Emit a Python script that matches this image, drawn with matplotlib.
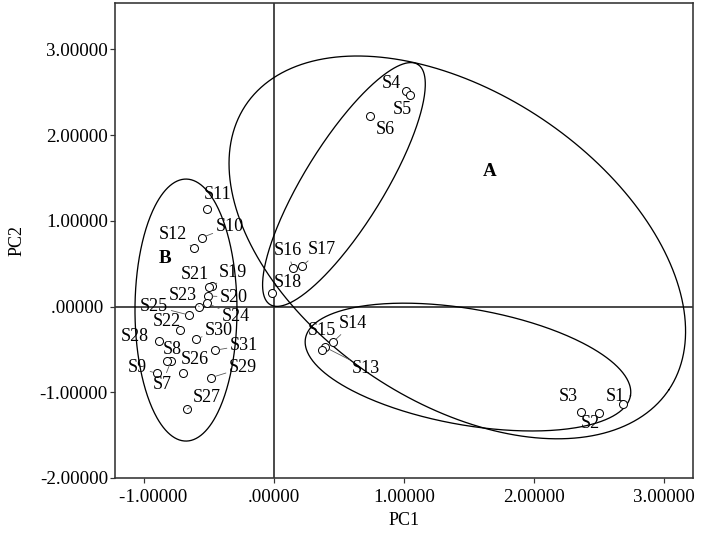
import numpy as np
import matplotlib
matplotlib.use("Agg")
import matplotlib.pyplot as plt
from matplotlib.ticker import FuncFormatter, MultipleLocator

plt.rcParams['font.family'] = ['Liberation Serif', 'DejaVu Serif']

# sample scores on the first two principal components
names = ['S1', 'S2', 'S3', 'S4', 'S5', 'S6', 'S7', 'S8', 'S9', 'S10',
         'S11', 'S12', 'S13', 'S14', 'S15', 'S16', 'S17', 'S18', 'S19', 'S20',
         'S21', 'S22', 'S23', 'S24', 'S25', 'S26', 'S27', 'S28', 'S29', 'S30', 'S31']
pc1 = [2.687, 2.500, 2.359, 1.013, 1.046, 0.738, -0.792, -0.825, -0.903, -0.556,
       -0.518, -0.615, 0.395, 0.451, 0.372, 0.144, 0.218, -0.013, -0.474, -0.508,
       -0.498, -0.723, -0.575, -0.515, -0.652, -0.698, -0.667, -0.885, -0.485, -0.600, -0.454]
pc2 = [-1.141, -1.247, -1.227, 2.518, 2.468, 2.223, -0.636, -0.636, -0.780, 0.803,
       1.134, 0.686, -0.476, -0.418, -0.508, 0.446, 0.476, 0.154, 0.239, 0.123,
       0.231, -0.274, 0.000, 0.040, -0.100, -0.770, -1.196, -0.400, -0.830, -0.380, -0.510]

# label offsets in pixels (right, down) and whether a leader line is drawn
label_pos = {
    'S1': (-8, -8, False), 'S2': (-9, 10, False), 'S3': (-12, -15, False),
    'S4': (-14, -7, False), 'S5': (-8, 15, True), 'S6': (15, 14, True),
    'S7': (-9, 23, True), 'S8': (6, -12, False), 'S9': (-19, -6, True),
    'S10': (28, -11, True), 'S11': (11, -15, False), 'S12': (-21, -13, True),
    'S13': (41, 21, True), 'S14': (20, -19, True), 'S15': (0, -20, False),
    'S16': (-5, -18, True), 'S17': (19, -16, True), 'S18': (16, -11, False),
    'S19': (21, -14, True), 'S20': (26, 1, True), 'S21': (-14, -12, False),
    'S22': (-13, -9, False), 'S23': (-16, -11, True), 'S24': (29, 13, True),
    'S25': (-35, -9, True), 'S26': (12, -13, False), 'S27': (19, -12, True),
    'S28': (-24, -4, False), 'S29': (32, -10, True), 'S30': (23, -9, True),
    'S31': (29, -5, True),
}

# cluster ellipses: centre (data), semi-axes (px), angle (deg)
ell_center = [(1.410, 0.690), (0.538, 1.424), (1.492, -0.706), (-0.677, -0.041)]
ell_axes = [(255, 154), (141, 40), (165, 58), (51, 131)]
ell_angle = [-34.0, 58.4, -10.0, 0.0]

groups = ['A', 'B']
group_x = [1.66, -0.838]
group_y = [1.57, 0.566]

xlim = (-1.223, 3.223)
ylim = (-2.0, 3.541)


def fmt(v, pos):
    s = '{:.5f}'.format(v)
    if s.startswith('-0.'):
        s = '-' + s[2:]
    elif s.startswith('0.'):
        s = s[1:]
    if s == '-.00000':
        s = '.00000'
    return s


def fmt_x(v, pos):
    s = fmt(v, pos)
    # SPSS puts the negative label a bit right of its tick
    if s.startswith('-'):
        s = '    ' + s
    return s


def fmt_y(v, pos):
    s = fmt(v, pos)
    if s == '.00000':
        s = '.00000 '
    return s


fig = plt.figure(figsize=(710 / 72, 550 / 72), dpi=72)
ax = fig.add_axes([115 / 710, 1 - 478 / 550, 578 / 710, 475 / 550])
ax.set_xlim(*xlim)
ax.set_ylim(*ylim)

# pixels per data unit
sx = 578 / (xlim[1] - xlim[0])
sy = 475 / (ylim[1] - ylim[0])

ax.axvline(0, color='#222222', lw=1.6, zorder=1)
ax.axhline(0, color='#222222', lw=1.6, zorder=1)

t = np.linspace(0, 2 * np.pi, 400)
for (cx, cy), (a, b), ang in zip(ell_center, ell_axes, ell_angle):
    th = np.radians(ang)
    u = a * np.cos(t)
    v = b * np.sin(t)
    ex = cx + (u * np.cos(th) - v * np.sin(th)) / sx
    ey = cy + (u * np.sin(th) + v * np.cos(th)) / sy
    ax.plot(ex, ey, color='black', lw=1.3, zorder=2)

ax.plot(pc1, pc2, 'o', ms=8, mfc='white', mec='black', mew=1.0, zorder=4)

for n, x, y in zip(names, pc1, pc2):
    dx, dy, lead = label_pos[n]
    props = None
    if lead:
        props = dict(arrowstyle='-', color='#555555', lw=0.8, shrinkA=1, shrinkB=4)
    ax.annotate(n, xy=(x, y), xytext=(dx, -dy), textcoords='offset points',
                ha='center', va='center', fontsize=18, arrowprops=props, zorder=5)

for g, x, y in zip(groups, group_x, group_y):
    ax.text(x, y, g, fontsize=19, fontweight='bold', ha='center', va='center')

ax.xaxis.set_major_locator(MultipleLocator(1))
ax.yaxis.set_major_locator(MultipleLocator(1))
ax.xaxis.set_major_formatter(FuncFormatter(fmt_x))
ax.yaxis.set_major_formatter(FuncFormatter(fmt_y))
ax.tick_params(direction='out', length=5, width=1.2, labelsize=19, color='#333333')
ax.tick_params(axis='x', pad=6)
ax.tick_params(axis='y', pad=2)
for sp in ax.spines.values():
    sp.set_linewidth(1.6)
    sp.set_color('#333333')

ax.set_xlabel('PC1', fontsize=18, labelpad=6)
ax.set_ylabel('PC2', fontsize=18, labelpad=14)

fig.savefig('out.png', dpi=72)
